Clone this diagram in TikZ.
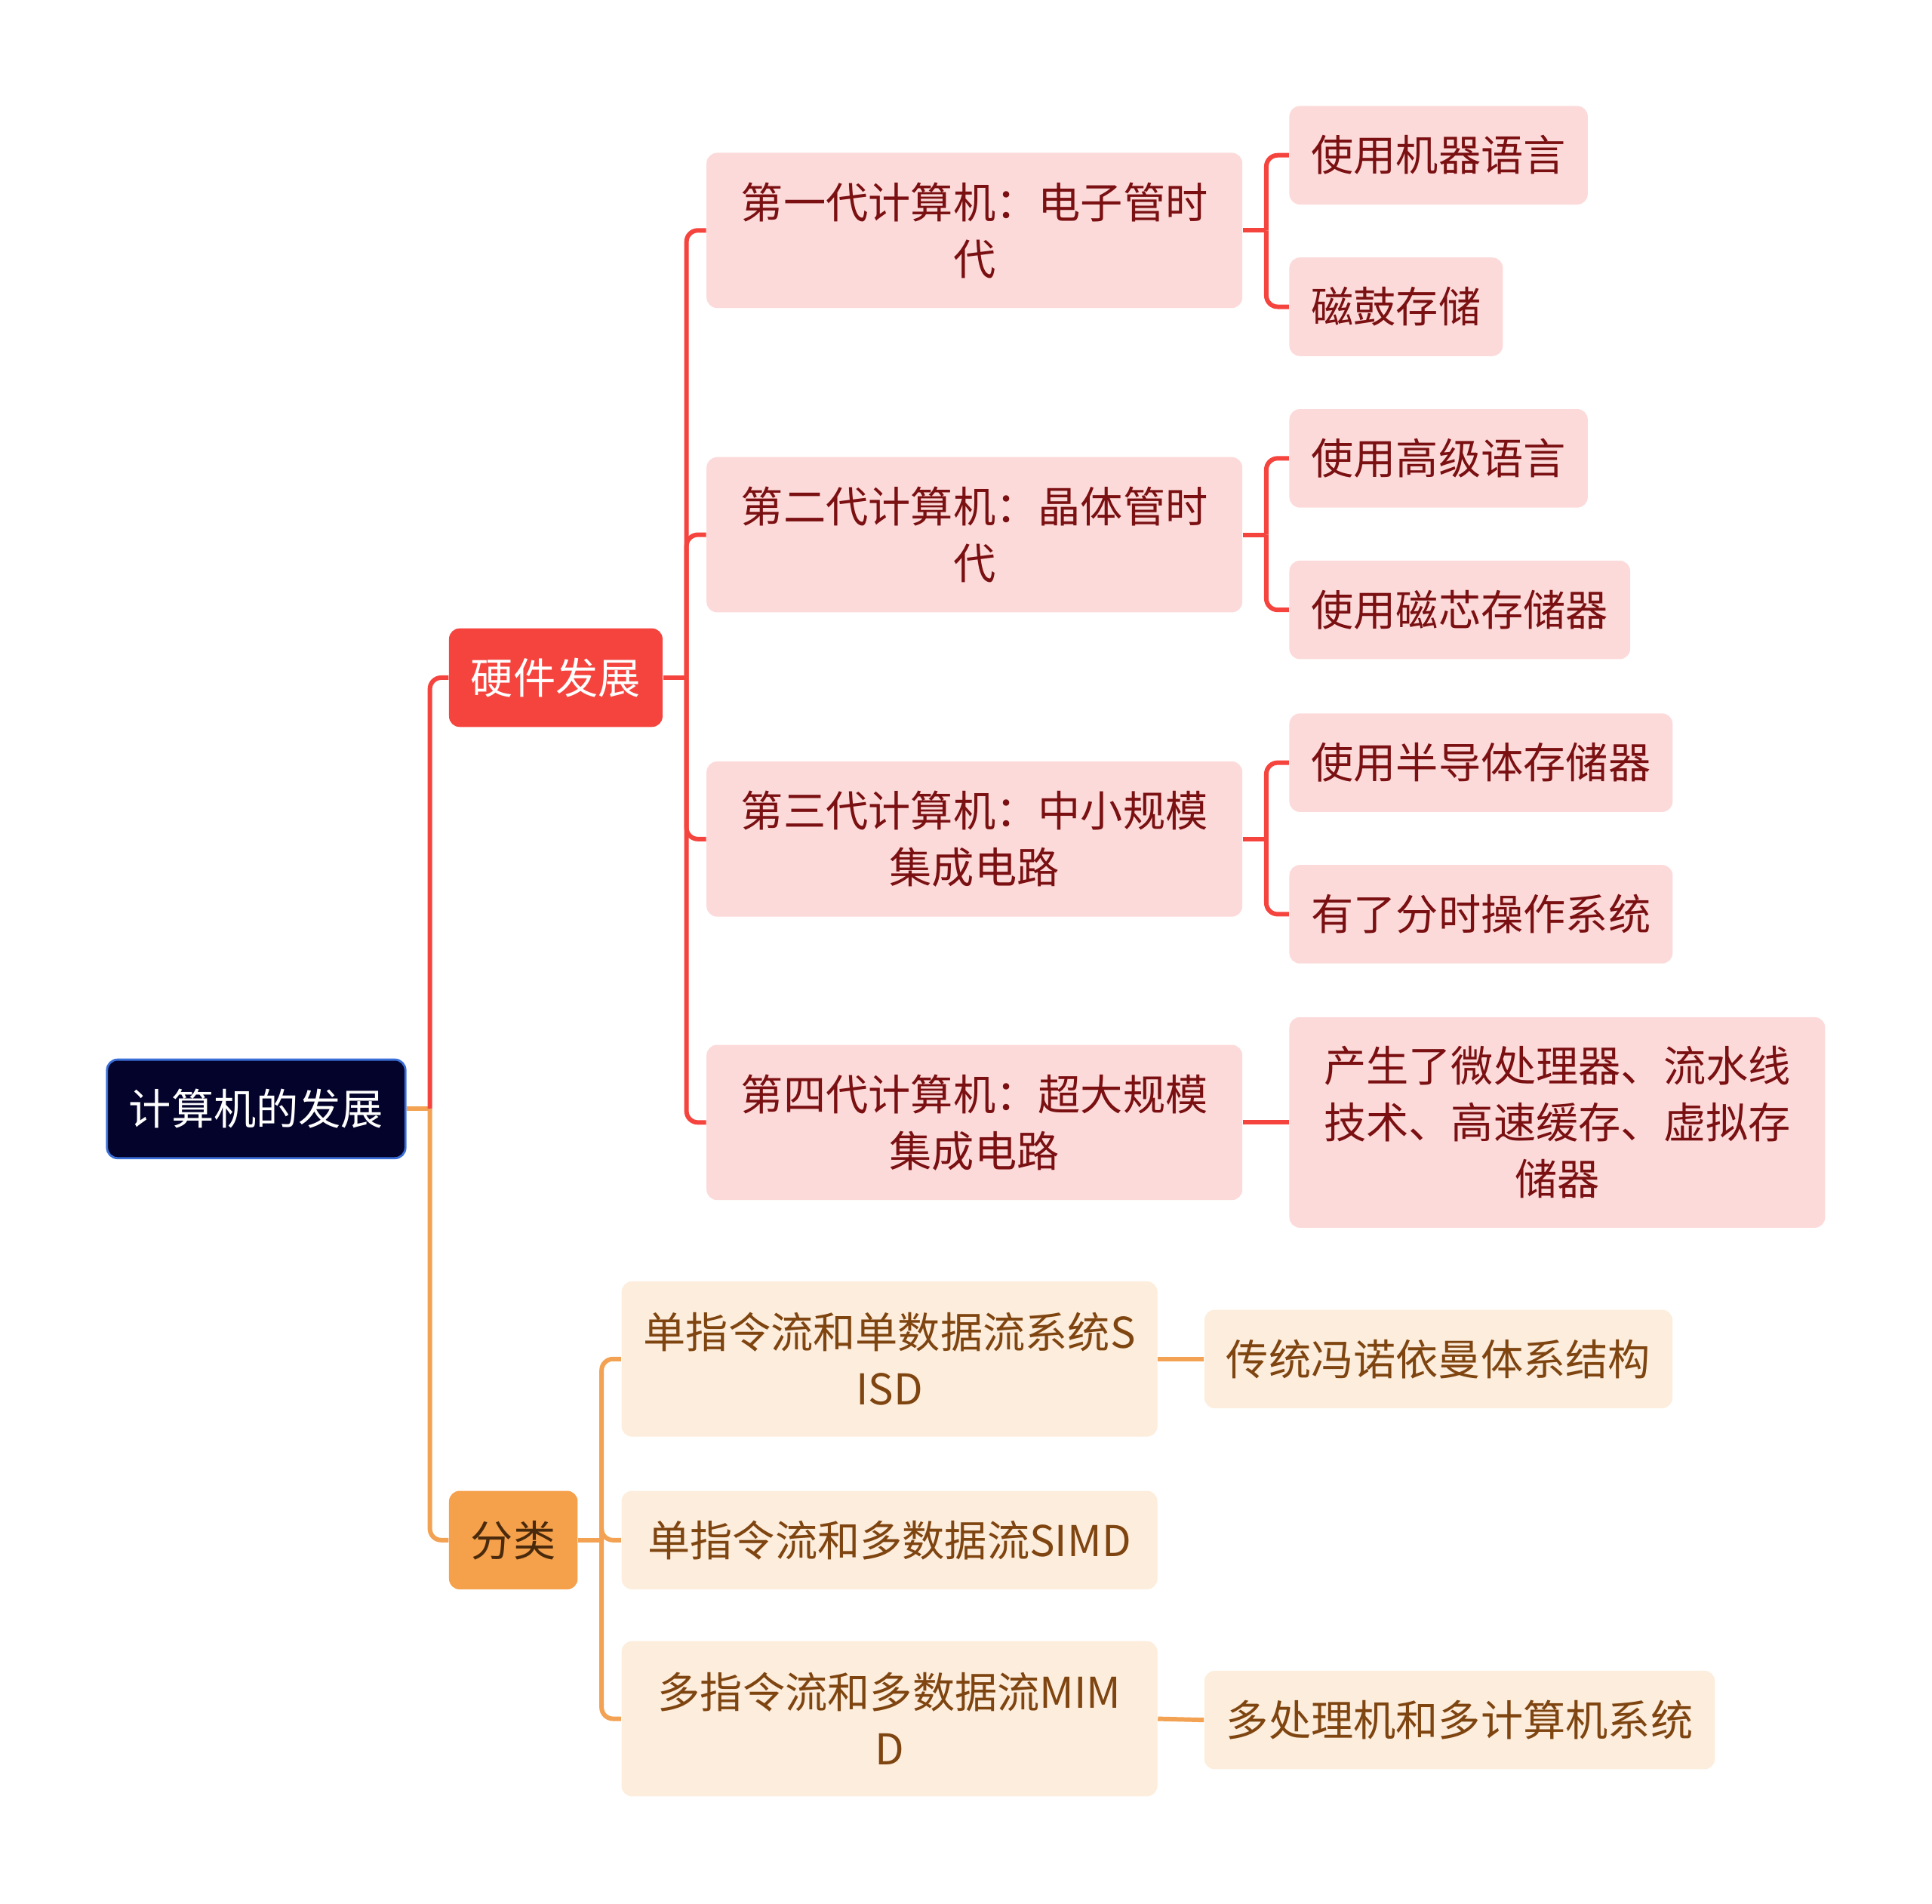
\documentclass[tikz,border=0pt]{standalone}
\usepackage{fontspec}
\setmainfont{Noto Sans CJK SC}
\usepackage{xcolor}
\usepackage{tikz}
\usetikzlibrary{positioning, calc}

\definecolor{rootfill}{HTML}{03032B}
\definecolor{rootline}{HTML}{3B6FD8}
\definecolor{hwred}{HTML}{F5443E}
\definecolor{hwpink}{HTML}{FDDADA}
\definecolor{hwtext}{HTML}{7A1012}
\definecolor{clsorange}{HTML}{F5A04B}
\definecolor{clspeach}{HTML}{FDEDDC}
\definecolor{clstext}{HTML}{7F4511}
\definecolor{clsdark}{HTML}{4A2A0C}
\definecolor{clsline}{HTML}{F2A252}

\begin{document}
\begin{tikzpicture}[x=0.016327cm, y=-0.016327cm,
  box/.style={rounded corners=0.14cm, inner xsep=0.29cm, inner ysep=0.1cm,
    minimum height=1.306cm, align=center, anchor=west,
    font=\fontsize{16}{21.4}\selectfont},
  hwbox/.style={box, fill=hwpink, text=hwtext},
  clsbox/.style={box, fill=clspeach, text=clstext},
  wide/.style={minimum width=7.1cm},
  hwlink/.style={draw=hwred, line width=1.7pt, rounded corners=0.15cm},
  clslink/.style={draw=clsline, line width=1.7pt, rounded corners=0.15cm}]

\useasboundingbox (0,0) rectangle (1568,1545.3);

% Root and main branches
\node[box, fill=rootfill, draw=rootline, line width=0.8pt, text=white] (root) at (86,900) {计算机的发展};
\node[box, fill=hwred, text=white] (hw) at (364,550) {硬件发展};
\node[box, fill=clsorange, text=clsdark] (cls) at (364,1250) {分类};

% Hardware generations
\node[hwbox, wide, minimum height=2.057cm] (gen1) at (573,187) {第一代计算机：电子管时\\代};
\node[hwbox, wide, minimum height=2.057cm] (gen2) at (573,434) {第二代计算机：晶体管时\\代};
\node[hwbox, wide, minimum height=2.057cm] (gen3) at (573,681) {第三代计算机：中小规模\\集成电路};
\node[hwbox, wide, minimum height=2.057cm] (gen4) at (573,911) {第四代计算机：超大规模\\集成电路};

% Hardware details
\node[hwbox] (gen1a) at (1046,126) {使用机器语言};
\node[hwbox] (gen1b) at (1046,249) {磁鼓存储};
\node[hwbox] (gen2a) at (1046,372) {使用高级语言};
\node[hwbox] (gen2b) at (1046,495) {使用磁芯存储器};
\node[hwbox] (gen3a) at (1046,619) {使用半导体存储器};
\node[hwbox] (gen3b) at (1046,742) {有了分时操作系统};
\node[hwbox, wide, minimum height=2.79cm] (gen4a) at (1046,911) {产生了微处理器、流水线\\技术、高速缓存、虚拟存\\储器};

% Classification
\node[clsbox, wide, minimum height=2.057cm] (sisd) at (504,1103) {单指令流和单数据流系统S\\ISD};
\node[clsbox, wide] (simd) at (504,1250) {单指令流和多数据流SIMD};
\node[clsbox, wide, minimum height=2.057cm] (mimd) at (504,1395) {多指令流和多数据流MIM\\D};
\node[clsbox] (sisda) at (977,1103) {传统冯诺依曼体系结构};
\node[clsbox] (mimda) at (977,1396) {多处理机和多计算机系统};

% Junction points
\path (root.east) ++(19,0) coordinate (rootj);
\path (hw.east) ++(19,0) coordinate (hwj);
\path (cls.east) ++(19,0) coordinate (clsj);

% Root links
\draw[clslink] (root.east) -- (rootj);
\draw[hwlink] (rootj) |- (hw.west);
\draw[clslink] (rootj) |- (cls.west);

% Hardware links
\draw[hwlink] (hw.east) -- (hwj);
\foreach \g in {gen1, gen2, gen3, gen4}
  \draw[hwlink] (hwj) |- (\g.west);
\foreach \g in {gen1, gen2, gen3} {
  \path (\g.east) ++(19,0) coordinate (\g j);
  \draw[hwlink] (\g.east) -- (\g j);
  \draw[hwlink] (\g j) |- (\g a.west);
  \draw[hwlink] (\g j) |- (\g b.west);
}
\draw[hwlink] (gen4.east) -- (gen4a.west);

% Classification links
\draw[clslink] (cls.east) -- (clsj);
\foreach \c in {sisd, simd, mimd}
  \draw[clslink] (clsj) |- (\c.west);
\draw[clslink] (sisd.east) -- (sisda.west);
\draw[clslink] (mimd.east) -- (mimda.west);

\end{tikzpicture}
\end{document}
